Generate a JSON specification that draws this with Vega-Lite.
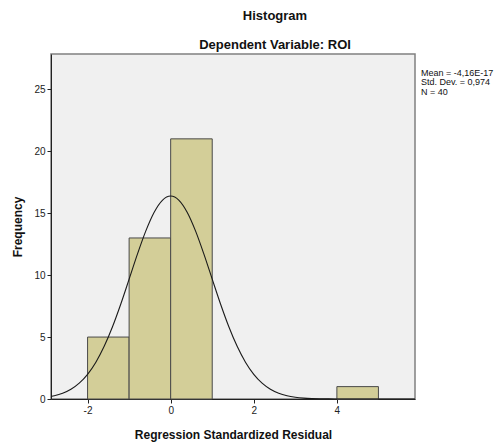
{
  "$schema": "https://vega.github.io/schema/vega-lite/v6.json",
  "autosize": {"type": "none"},
  "width": 364,
  "height": 345,
  "padding": {"left": 51, "top": 54, "right": 81, "bottom": 45},
  "background": "white",
  "config": {
    "font": "Liberation Sans",
    "view": {"fill": "#F0F0F0", "stroke": "#808080", "strokeWidth": 1.5},
    "axis": {"grid": false, "labelFontSize": 10, "labelColor": "#222", "tickColor": "#222", "domainColor": "#222", "tickSize": 4, "titleFontSize": 12, "titleFontWeight": "bold", "titleColor": "#111", "labelExpr": "replace(datum.label, '\u2212', '-')"}
  },
  "title": {
    "text": ["Histogram", "Dependent Variable: ROI"],
    "fontSize": 13,
    "fontWeight": "bold",
    "color": "#111",
    "lineHeight": 29,
    "anchor": "middle",
    "frame": "group",
    "dx": 42,
    "offset": 2
  },
  "datasets": {
    "bins": [
      {"start": -2, "end": -1, "count": 5},
      {"start": -1, "end": 0, "count": 13},
      {"start": 0, "end": 1, "count": 21},
      {"start": 4, "end": 5, "count": 1}
    ],
    "curve": [
      {"x": -2.88, "y": 0.207},
      {"x": -2.8, "y": 0.263},
      {"x": -2.6, "y": 0.465},
      {"x": -2.4, "y": 0.787},
      {"x": -2.2, "y": 1.278},
      {"x": -2.0, "y": 1.990},
      {"x": -1.8, "y": 2.970},
      {"x": -1.6, "y": 4.251},
      {"x": -1.4, "y": 5.832},
      {"x": -1.2, "y": 7.670},
      {"x": -1.0, "y": 9.673},
      {"x": -0.8, "y": 11.694},
      {"x": -0.6, "y": 13.552},
      {"x": -0.4, "y": 15.059},
      {"x": -0.2, "y": 16.042},
      {"x": 0.0, "y": 16.384},
      {"x": 0.2, "y": 16.042},
      {"x": 0.4, "y": 15.059},
      {"x": 0.6, "y": 13.552},
      {"x": 0.8, "y": 11.694},
      {"x": 1.0, "y": 9.673},
      {"x": 1.2, "y": 7.670},
      {"x": 1.4, "y": 5.832},
      {"x": 1.6, "y": 4.251},
      {"x": 1.8, "y": 2.970},
      {"x": 2.0, "y": 1.990},
      {"x": 2.2, "y": 1.278},
      {"x": 2.4, "y": 0.787},
      {"x": 2.6, "y": 0.465},
      {"x": 2.8, "y": 0.263},
      {"x": 3.0, "y": 0.143},
      {"x": 3.2, "y": 0.074},
      {"x": 3.4, "y": 0.037},
      {"x": 3.6, "y": 0.018},
      {"x": 3.8, "y": 0.008},
      {"x": 4.0, "y": 0.0035},
      {"x": 4.4, "y": 0.0005},
      {"x": 5.0, "y": 0.0},
      {"x": 5.88, "y": 0.0}
    ],
    "stats": [
      {"x": 5.88, "y": 26.65, "label": "Mean = -4,16E-17|Std. Dev. = 0,974|N = 40"}
    ]
  },
  "layer": [
    {
      "data": {"name": "bins"},
      "mark": {"type": "bar", "fill": "#D3CE98", "stroke": "#4a4a4a", "strokeWidth": 1},
      "encoding": {
        "x": {"field": "start", "type": "quantitative",
              "scale": {"domain": [-2.88, 5.88], "nice": false, "zero": false},
              "axis": {"values": [-2, 0, 2, 4], "title": "Regression Standardized Residual", "titlePadding": 14}},
        "x2": {"field": "end"},
        "y": {"field": "count", "type": "quantitative",
              "scale": {"domain": [0, 27.85], "nice": false},
              "axis": {"values": [0, 5, 10, 15, 20, 25], "title": "Frequency", "titlePadding": 9}},
        "y2": {"datum": 0}
      }
    },
    {
      "data": {"name": "curve"},
      "mark": {"type": "line", "color": "#1a1a1a", "strokeWidth": 1.1, "interpolate": "monotone", "clip": true},
      "encoding": {
        "x": {"field": "x", "type": "quantitative"},
        "y": {"field": "y", "type": "quantitative"}
      }
    },
    {
      "data": {"name": "stats"},
      "mark": {"type": "text", "align": "left", "baseline": "top", "dx": 6, "fontSize": 9, "lineHeight": 9.5, "lineBreak": "|", "color": "#111", "font": "Liberation Sans"},
      "encoding": {
        "x": {"field": "x", "type": "quantitative"},
        "y": {"field": "y", "type": "quantitative"},
        "text": {"field": "label"}
      }
    }
  ]
}
